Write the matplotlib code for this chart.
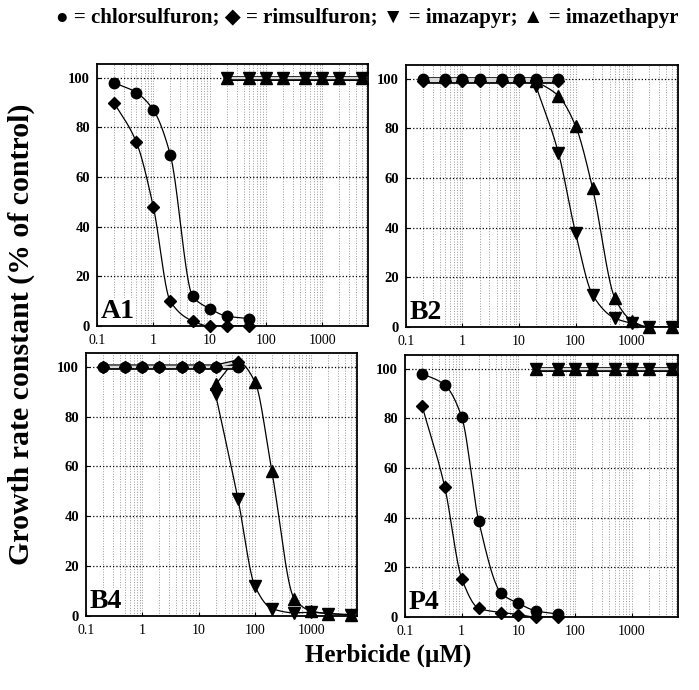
import numpy as np
import matplotlib
matplotlib.use('Agg')
import matplotlib.pyplot as plt

# herbicide concentrations (uM)
conc_su = [0.2, 0.5, 1, 2, 5, 10, 20, 50]             # sulfonylureas
conc_im = [20, 50, 100, 200, 500, 1000, 2000, 5000]   # imidazolinones

# growth rate constant (% of control)
panels = ['A1', 'B2', 'B4', 'P4']
chlorsulfuron = {
    'A1': [98, 94, 87, 69, 12, 7, 4, 3],
    'B2': [100, 100, 100, 100, 100, 100, 100, 100],
    'B4': [100, 100, 100, 100, 100, 100, 100, 100],
    'P4': [98, 93.5, 80.5, 38.5, 9.5, 5.5, 2.5, 1.2],
}
rimsulfuron = {
    'A1': [90, 74, 48, 10, 2, 0, 0, 0],
    'B2': [99, 99, 99, 99, 99, 99, 99, 99],
    'B4': [100, 100, 100, 100, 100, 100, 100, 102],
    'P4': [85, 52.5, 15.5, 3.5, 1.8, 1, 0, 0],
}
imazapyr = {
    'A1': [100, 100, 100, 100, 100, 100, 100, 100],
    'B2': [97, 70, 38, 13, 3.5, 1.5, 0, 0],
    'B4': [89, 47, 12, 3, 1.3, 1.5, 1, 0.5],
    'P4': [100, 100, 100, 100, 100, 100, 100, 100],
}
imazethapyr = {
    'A1': [100, 100, 100, 100, 100, 100, 100, 100],
    'B2': [99, 93, 81, 56, 11.5, 2.5, 0, 0],
    'B4': [93, 102, 94, 58, 7, 2, 1, 0.5],
    'P4': [100, 100, 100, 100, 100, 100, 100, 100],
}

# axes boxes in figure fractions (left, bottom, width, height)
boxes = {
    'A1': [0.1388, 0.5275, 0.3877, 0.3797],
    'B2': [0.5808, 0.5261, 0.3891, 0.3797],
    'B4': [0.1230, 0.1072, 0.3877, 0.3812],
    'P4': [0.5794, 0.1058, 0.3906, 0.3797],
}

serif = ['Liberation Serif', 'DejaVu Serif']
sym = ['Liberation Serif', 'DejaVu Sans']


def smooth(x, y, n=200):
    # monotone cubic (pchip) through the points, in log10(x)
    lx = np.log10(np.asarray(x, float))
    y = np.asarray(y, float)
    h = np.diff(lx)
    d = np.diff(y) / h
    m = np.zeros(len(lx))
    m[0], m[-1] = d[0], d[-1]
    for k in range(1, len(lx) - 1):
        if d[k - 1] * d[k] > 0:
            w1 = 2 * h[k] + h[k - 1]
            w2 = h[k] + 2 * h[k - 1]
            m[k] = (w1 + w2) / (w1 / d[k - 1] + w2 / d[k])
    xs = np.linspace(lx[0], lx[-1], n)
    i = np.clip(np.searchsorted(lx, xs) - 1, 0, len(h) - 1)
    t = (xs - lx[i]) / h[i]
    h00 = 2 * t**3 - 3 * t**2 + 1
    h10 = t**3 - 2 * t**2 + t
    h01 = -2 * t**3 + 3 * t**2
    h11 = t**3 - t**2
    ys = h00 * y[i] + h10 * h[i] * m[i] + h01 * y[i + 1] + h11 * h[i] * m[i + 1]
    return 10**xs, ys


def draw(ax, x, y, marker, ms):
    if min(y) >= 95:
        # flat response: drawn as a double line
        ax.plot(x, y, color='black', lw=3.4, zorder=3, solid_capstyle='butt')
        ax.plot(x, y, color='0.85', lw=1.6, zorder=3.1, solid_capstyle='butt')
    else:
        xs, ys = smooth(x, y)
        ax.plot(xs, ys, color='black', lw=0.9, zorder=3)
    ax.plot(x, y, linestyle='none', marker=marker, ms=ms, color='black',
            zorder=4, clip_on=False)


fig = plt.figure(figsize=(6.99, 6.90), dpi=100)

for p in panels:
    ax = fig.add_axes(boxes[p])
    ax.set_xscale('log')
    ax.set_xlim(0.1, 6500)
    ax.set_ylim(0, 105.5)

    draw(ax, conc_su, chlorsulfuron[p], 'o', 7.5)
    draw(ax, conc_su, rimsulfuron[p], 'D', 6.5)
    draw(ax, conc_im, imazapyr[p], 'v', 8.5)
    draw(ax, conc_im, imazethapyr[p], '^', 8.5)

    ax.set_yticks([0, 20, 40, 60, 80, 100])
    ax.set_xticks([0.1, 1, 10, 100, 1000])
    ax.set_xticklabels(['0.1', '1', '10', '100', '1000'])
    ax.tick_params(axis='both', which='both', direction='in', length=3,
                   width=0.8, top=False, right=False)
    ax.tick_params(axis='x', which='minor', length=0)
    ax.tick_params(axis='x', which='major', pad=6)
    ax.tick_params(axis='y', which='major', pad=5)
    for lab in ax.get_xticklabels():
        lab.set_family(serif)
        lab.set_fontsize(10)
    for lab in ax.get_yticklabels():
        lab.set_family(serif)
        lab.set_fontsize(10.5)
        lab.set_fontweight('bold')

    ax.grid(True, which='major', axis='y', color='black', linestyle=':', lw=0.9)
    ax.grid(True, which='both', axis='x', color='0.6', linestyle=':', lw=0.7)
    for s in ax.spines.values():
        s.set_linewidth(1.3)

    ax.text(0.012, 0.008, p, transform=ax.transAxes, ha='left', va='bottom',
            family=serif, fontsize=20, fontweight='bold', zorder=5,
            bbox=dict(facecolor='white', edgecolor='none', pad=0.5))

fig.text(0.525, 0.974,
         '\u25cf = chlorsulfuron; \u25c6 = rimsulfuron; \u25bc = imazapyr; \u25b2 = imazethapyr',
         ha='center', va='center', family=sym, fontsize=15, fontweight='bold')
fig.text(0.03, 0.515, 'Growth rate constant (% of control)', rotation=90,
         ha='center', va='center', family=serif, fontsize=21.5, fontweight='bold')
fig.text(0.555, 0.05, 'Herbicide (\u00b5M)', ha='center', va='center',
         family=serif, fontsize=18, fontweight='bold')

fig.savefig('out.png', dpi=100)
